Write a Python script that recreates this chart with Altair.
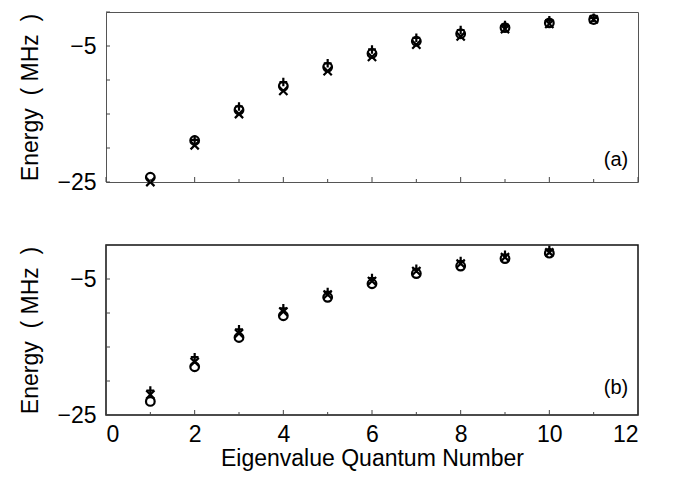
import altair as alt
import pandas as pd

# ---- data ----
n_a = [1, 2, 3, 4, 5, 6, 7, 8, 9, 10, 11]
circle_a = [-24.3, -18.9, -14.4, -10.9, -8.1, -6.1, -4.3, -3.2, -2.3, -1.6, -1.1]
cross_a = [-25.0, -19.6, -15.0, -11.6, -8.7, -6.6, -4.8, -3.6, -2.5, -1.75, -1.1]
plus_a = [None, -18.8, -13.9, -10.3, -7.55, -5.5, -3.8, -2.65, -1.9, -1.2, -0.85]

n_b = [1, 2, 3, 4, 5, 6, 7, 8, 9, 10]
circle_b = [-23.0, -17.9, -13.6, -10.4, -7.7, -5.7, -4.2, -3.1, -2.0, -1.2]
cross_b = [-22.0, -17.2, -13.0, -9.8, -7.3, -5.3, -3.85, -2.75, -1.8, -1.1]
plus_b = [-21.4, -16.5, -12.4, -9.3, -6.9, -4.85, -3.5, -2.35, -1.45, -0.75]

x_tick_values = list(range(0, 13))
x_label_values = [0, 2, 4, 6, 8, 10, 12]
y_tick_values = [-25, -20, -15, -10, -5, 0]
y_label_values = [-25, -5]

FONT = "Liberation Sans"
W, H = 532, 170
Y_TITLE = "Energy\u00a0\u00a0( MHz\u00a0\u00a0)"

series_order = ["circle", "cross", "plus"]
shape_range = ["circle", "M-1,-1L1,1M-1,1L1,-1", "M0,-1.1L0,1.1M-1,0L1,0"]


def long_df(ns, c, x, p):
    rows = []
    for name, vals in zip(series_order, [c, x, p]):
        for n, v in zip(ns, vals):
            if v is not None:
                rows.append({"n": n, "E": v, "s": name})
    return pd.DataFrame(rows)


def panel(df, label, label_dy, show_x_labels, stroke, stroke_w):
    xscale = alt.Scale(domain=[0, 12], nice=False, zero=False)
    yscale = alt.Scale(domain=[-25, 0], nice=False, zero=False)
    if show_x_labels:
        xaxis = alt.Axis(values=x_label_values, ticks=False, tickSize=0, grid=False,
                         domain=False, labelFontSize=23,
                         labelFont=FONT, labelColor="black", labelPadding=8,
                         title="Eigenvalue Quantum Number",
                         titleFontSize=23, titleFont=FONT, titleFontWeight="normal",
                         titleColor="black", titlePadding=1)
    else:
        xaxis = alt.Axis(values=x_label_values, ticks=False, tickSize=0, grid=False,
                         domain=False, labels=False, labelPadding=0, title=None)
    yaxis = alt.Axis(values=y_label_values, ticks=False, tickSize=0, grid=False,
                     domain=False, labelFontSize=23, labelFont=FONT,
                     labelColor="black", labelPadding=10,
                     title=Y_TITLE, titleFontSize=23, titleFont=FONT,
                     titleFontWeight="normal", titleColor="black", titlePadding=14)

    pts = alt.Chart(df).mark_point(filled=False, strokeWidth=2.2, color="black", opacity=1).encode(
        x=alt.X("n:Q", scale=xscale, axis=xaxis),
        y=alt.Y("E:Q", scale=yscale, axis=yaxis),
        shape=alt.Shape("s:N", scale=alt.Scale(domain=series_order, range=shape_range), legend=None),
        size=alt.Size("s:N", scale=alt.Scale(domain=series_order, range=[75, 60, 100]), legend=None),
    )

    xt = pd.DataFrame({"t": x_tick_values})
    xt_major = xt[xt["t"] % 2 == 0]
    xt_minor = xt[xt["t"] % 2 == 1]
    xmaj = alt.Chart(xt_major).mark_rule(color="#444", strokeWidth=1).encode(
        x=alt.X("t:Q", scale=xscale), y=alt.value(H), y2=alt.value(H - 5))
    xmin = alt.Chart(xt_minor).mark_rule(color="#444", strokeWidth=1).encode(
        x=alt.X("t:Q", scale=xscale), y=alt.value(H), y2=alt.value(H - 3))
    yt = pd.DataFrame({"t": y_tick_values})
    ytk = alt.Chart(yt).mark_rule(color="#444", strokeWidth=1).encode(
        y=alt.Y("t:Q", scale=yscale), x=alt.value(0), x2=alt.value(4))

    lab = alt.Chart(pd.DataFrame({"l": [label]})).mark_text(
        font=FONT, fontSize=20, color="black", align="center", baseline="middle").encode(
        text="l:N", x=alt.value(W - 22), y=alt.value(H - label_dy))

    return alt.layer(pts, xmaj, xmin, ytk, lab).properties(
        width=W, height=H,
        view=alt.ViewBackground(stroke=stroke, strokeWidth=stroke_w))


top = panel(long_df(n_a, circle_a, cross_a, plus_a), "(a)", 22, False, "#555", 1)
bot = panel(long_df(n_b, circle_b, cross_b, plus_b), "(b)", 27, True, "#111", 1.5)

chart = alt.vconcat(top, bot, spacing=45).properties(
    padding={"left": 11, "top": 0, "right": 0, "bottom": 0}
).configure(background="white")

chart.save("out.html", embed_options={"renderer": "svg", "actions": False})
